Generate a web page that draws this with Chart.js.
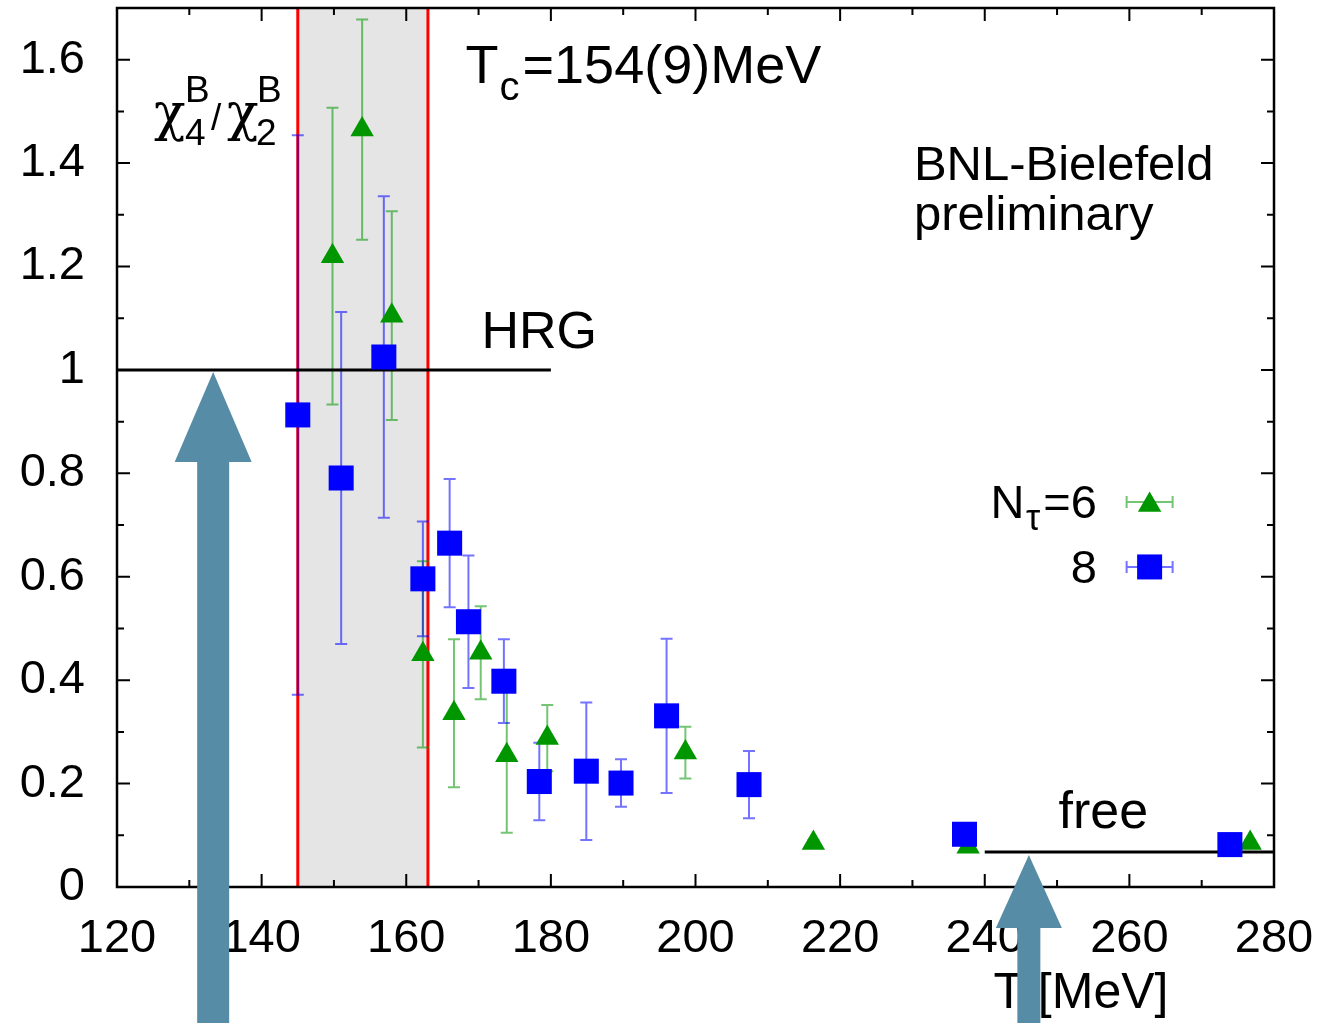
<!DOCTYPE html>
<html>
<head>
<meta charset="utf-8">
<script src="https://cdn.jsdelivr.net/npm/chart.js@4.4.0/dist/chart.umd.min.js"></script>
<style>
  html, body { margin: 0; padding: 0; background: #fff; }
  canvas { display: block; }
</style>
</head>
<body>
<canvas id="myChart" width="1325" height="1023"></canvas>
<script>
// N_tau = 6 (green triangles)
const tempN6  = [149.8, 153.9, 158.0, 162.3, 166.6, 170.3, 173.9, 179.5, 198.6, 216.3, 237.7, 276.7];
const ratioN6 = [1.22, 1.465, 1.105, 0.45, 0.336, 0.453, 0.255, 0.288, 0.26, 0.085, 0.078, 0.085];
const errN6   = [0.287, 0.213, 0.202, 0.18, 0.143, 0.09, 0.15, 0.064, 0.05, 0.006, 0.006, 0.006];

// N_tau = 8 (blue squares)
const tempN8  = [145.0, 151.0, 156.9, 162.3, 166.0, 168.6, 173.5, 178.4, 184.9, 189.7, 196.0, 207.4, 237.2, 273.9];
const ratioN8 = [0.913, 0.791, 1.025, 0.596, 0.665, 0.513, 0.398, 0.204, 0.224, 0.201, 0.331, 0.198, 0.102, 0.082];
const errN8   = [0.541, 0.321, 0.311, 0.111, 0.124, 0.128, 0.081, 0.075, 0.133, 0.046, 0.149, 0.065, 0.006, 0.006];

// HRG and free (Stefan-Boltzmann) limits
const hrgT = [120, 180];
const hrgValue = [1, 1];
const freeT = [240, 280];
const freeValue = [0.0675, 0.0675];

// Tc = 154(9) MeV band
const tcBand = [145, 163];

const xTicks = [120, 140, 160, 180, 200, 220, 240, 260, 280];
const yTicks = [0, 0.2, 0.4, 0.6, 0.8, 1, 1.2, 1.4, 1.6];

const FONT = '"Liberation Sans", Arial, Helvetica, sans-serif';
const GREEK = '"DejaVu Serif", serif';
const GREEN = '#009600';
const BLUE = '#0000ff';
const ARROW = '#578ca7';

const pts = (xs, ys) => xs.map((x, i) => ({ x: x, y: ys[i] }));
const mids = arr => arr.slice(1).map((v, i) => (v + arr[i]) / 2);

function drawTri(ctx, x, y, r) {
    ctx.beginPath();
    ctx.moveTo(x, y - r);
    ctx.lineTo(x + 0.866 * r, y + 0.5 * r);
    ctx.lineTo(x - 0.866 * r, y + 0.5 * r);
    ctx.closePath();
    ctx.fill();
}

function text(ctx, s, x, y, size, align, family) {
    ctx.font = size + 'px ' + (family || FONT);
    ctx.textAlign = align || 'left';
    ctx.textBaseline = 'alphabetic';
    ctx.fillText(s, x, y);
}

// no auto padding, so the plot frame sits where the reference has it
function noPad(s) {
    s.paddingTop = 0; s.paddingBottom = 0; s.paddingLeft = 0; s.paddingRight = 0;
}

const decorations = {
    id: 'decorations',
    beforeDatasetsDraw(chart) {
        const { ctx, chartArea: a, scales: { x: sx, y: sy } } = chart;
        const X = v => sx.getPixelForValue(v);
        const Y = v => sy.getPixelForValue(v);
        ctx.save();
        // shaded Tc band
        ctx.fillStyle = '#e5e5e5';
        ctx.fillRect(X(tcBand[0]), a.top, X(tcBand[1]) - X(tcBand[0]), a.height);
        ctx.strokeStyle = '#ff0000';
        ctx.lineWidth = 3;
        tcBand.forEach(t => {
            ctx.beginPath();
            ctx.moveTo(X(t), a.top);
            ctx.lineTo(X(t), a.bottom);
            ctx.stroke();
        });
        // error bars
        const errBars = (xs, ys, es, color) => {
            ctx.strokeStyle = color;
            ctx.lineWidth = 2;
            xs.forEach((t, i) => {
                const x = X(t), y0 = Y(ys[i] - es[i]), y1 = Y(ys[i] + es[i]);
                ctx.beginPath();
                ctx.moveTo(x, y0); ctx.lineTo(x, y1);
                ctx.moveTo(x - 6, y0); ctx.lineTo(x + 6, y0);
                ctx.moveTo(x - 6, y1); ctx.lineTo(x + 6, y1);
                ctx.stroke();
            });
        };
        errBars(tempN6, ratioN6, errN6, 'rgba(0,150,0,0.55)');
        errBars(tempN8, ratioN8, errN8, 'rgba(0,0,255,0.55)');
        ctx.restore();
    },
    afterDatasetsDraw(chart) {
        const { ctx, chartArea: a, scales: { x: sx, y: sy } } = chart;
        const X = v => sx.getPixelForValue(v);
        const Y = v => sy.getPixelForValue(v);
        ctx.save();
        // frame and inward ticks on all four sides
        ctx.strokeStyle = '#000';
        ctx.lineWidth = 2.5;
        ctx.strokeRect(a.left, a.top, a.width, a.height);
        ctx.lineWidth = 2;
        ctx.beginPath();
        const xt = (t, len) => {
            ctx.moveTo(X(t), a.bottom); ctx.lineTo(X(t), a.bottom - len);
            ctx.moveTo(X(t), a.top); ctx.lineTo(X(t), a.top + len);
        };
        const yt = (v, len) => {
            ctx.moveTo(a.left, Y(v)); ctx.lineTo(a.left + len, Y(v));
            ctx.moveTo(a.right, Y(v)); ctx.lineTo(a.right - len, Y(v));
        };
        xTicks.forEach(t => xt(t, 13));
        mids(xTicks).forEach(t => xt(t, 7));
        yTicks.forEach(v => yt(v, 13));
        mids(yTicks).forEach(v => yt(v, 7));
        ctx.stroke();

        ctx.fillStyle = '#000';
        // chi_4^B / chi_2^B
        let cx = X(125.1), cy = Y(1.464);
        text(ctx, 'χ', cx, cy, 52, 'left', GREEK);
        text(ctx, '4', cx + 31, cy + 15, 37);
        text(ctx, 'B', cx + 31, cy - 28, 37);
        text(ctx, '/', cx + 57, cy, 37);
        text(ctx, 'χ', cx + 73, cy, 52, 'left', GREEK);
        text(ctx, '2', cx + 102, cy + 15, 37);
        text(ctx, 'B', cx + 103, cy - 28, 37);

        // Tc label
        cx = X(168.2); cy = Y(1.555);
        text(ctx, 'T', cx, cy, 54);
        text(ctx, 'c', cx + 34, cy + 17, 40);
        text(ctx, '=154(9)MeV', cx + 57, cy, 54);

        text(ctx, 'HRG', X(170.4), Y(1.0426), 52);
        text(ctx, 'BNL-Bielefeld', X(230.2), Y(1.3675), 49);
        text(ctx, 'preliminary', X(230.2), Y(1.2708), 49);
        text(ctx, 'free', X(250.2), Y(0.1141), 52);

        // legend
        text(ctx, 'N', X(240.8), Y(0.7137), 47);
        text(ctx, 'τ', X(245.7), Y(0.6905), 36);
        text(ctx, '=6', X(255.5), Y(0.7137), 47, 'right');
        text(ctx, '8', X(255.5), Y(0.588), 47, 'right');
        const lx = X(262.8);
        [[Y(0.7447), 'rgba(0,150,0,0.55)'], [Y(0.619), 'rgba(0,0,255,0.55)']].forEach(([ly, c]) => {
            ctx.strokeStyle = c;
            ctx.lineWidth = 2;
            ctx.beginPath();
            ctx.moveTo(lx - 23, ly); ctx.lineTo(lx + 23, ly);
            ctx.moveTo(lx - 23, ly - 6); ctx.lineTo(lx - 23, ly + 6);
            ctx.moveTo(lx + 23, ly - 6); ctx.lineTo(lx + 23, ly + 6);
            ctx.stroke();
        });
        ctx.fillStyle = GREEN;
        drawTri(ctx, lx, Y(0.7447) + 3, 13.5);
        ctx.fillStyle = BLUE;
        ctx.fillRect(lx - 12.5, Y(0.619) - 12.5, 25, 25);

        // axis title
        ctx.fillStyle = '#000';
        text(ctx, 'T [MeV]', X(241.2), Y(-0.234), 50);
        ctx.restore();
    },
    afterDraw(chart) {
        const { ctx, scales: { x: sx, y: sy } } = chart;
        const X = v => sx.getPixelForValue(v);
        const Y = v => sy.getPixelForValue(v);
        const bottom = chart.height;
        const arrow = (x, tip, headLen, headHalf, shaftHalf) => {
            ctx.beginPath();
            ctx.moveTo(x, tip);
            ctx.lineTo(x + headHalf, tip + headLen);
            ctx.lineTo(x + shaftHalf, tip + headLen);
            ctx.lineTo(x + shaftHalf, bottom);
            ctx.lineTo(x - shaftHalf, bottom);
            ctx.lineTo(x - shaftHalf, tip + headLen);
            ctx.lineTo(x - headHalf, tip + headLen);
            ctx.closePath();
            ctx.fill();
        };
        ctx.save();
        ctx.fillStyle = ARROW;
        arrow(X(133.3), Y(0.996), 90, 38.5, 16);
        arrow(X(246.1), Y(0.062), 73, 33, 11.5);
        ctx.restore();
    }
};

const ctx = document.getElementById('myChart').getContext('2d');
const chart = new Chart(ctx, {
    type: 'scatter',
    data: {
        datasets: [
            {
                label: '8',
                data: pts(tempN8, ratioN8),
                pointStyle: 'rect',
                pointRadius: 17.7,
                pointBorderWidth: 0,
                backgroundColor: BLUE,
                borderColor: BLUE
            },
            {
                label: 'N_tau=6',
                data: pts(tempN6, ratioN6),
                pointStyle: 'triangle',
                pointRadius: 13.5,
                pointBorderWidth: 0,
                backgroundColor: GREEN,
                borderColor: GREEN
            },
            {
                label: 'HRG',
                data: pts(hrgT, hrgValue),
                showLine: true,
                pointRadius: 0,
                borderColor: '#000',
                borderWidth: 3
            },
            {
                label: 'free',
                data: pts(freeT, freeValue),
                showLine: true,
                pointRadius: 0,
                borderColor: '#000',
                borderWidth: 3
            }
        ]
    },
    options: {
        responsive: false,
        animation: false,
        events: [],
        layout: { autoPadding: false, padding: { top: 8, right: 51, left: 0, bottom: 0 } },
        plugins: { legend: { display: false }, tooltip: { enabled: false } },
        scales: {
            x: {
                type: 'linear',
                min: 120,
                max: 280,
                afterBuildTicks: s => { s.ticks = xTicks.map(v => ({ value: v })); },
                afterFit: s => { s.height = 136; noPad(s); },
                grid: { display: false, drawTicks: false },
                border: { display: false },
                ticks: { color: '#000', padding: 24, maxRotation: 0, font: { family: FONT, size: 47 } }
            },
            y: {
                type: 'linear',
                min: 0,
                max: 1.7,
                afterBuildTicks: s => { s.ticks = yTicks.map(v => ({ value: v })); },
                afterFit: s => { s.width = 117; noPad(s); },
                grid: { display: false, drawTicks: false },
                border: { display: false },
                ticks: {
                    color: '#000',
                    padding: 32,
                    font: { family: FONT, size: 47 },
                    callback: v => String(+v.toFixed(1))
                }
            }
        }
    },
    plugins: [decorations]
});
</script>
</body>
</html>
